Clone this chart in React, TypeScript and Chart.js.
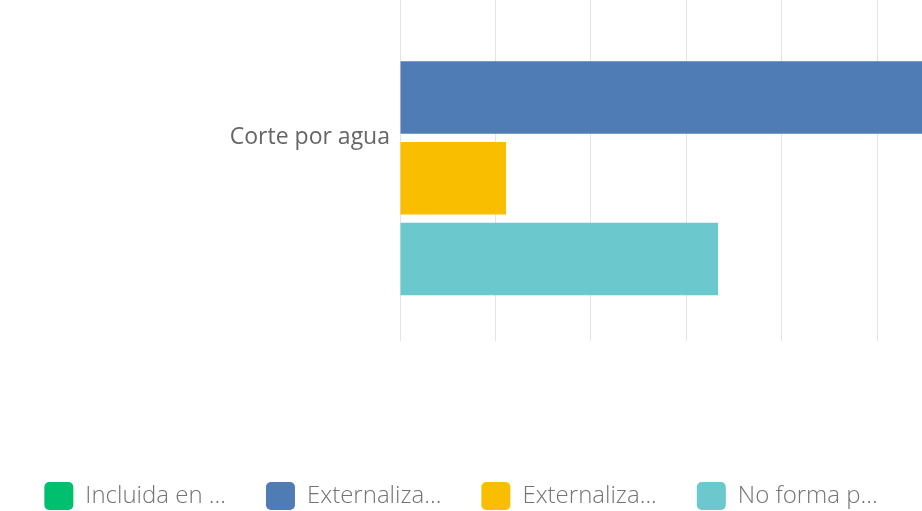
import React, { useEffect, useRef } from "react";
import { Chart, registerables } from "chart.js";

Chart.register(...registerables);

const categories = ["Corte por agua"];
const seriesLabels = ["Incluida en ...", "Externaliza...", "Externaliza...", "No forma p..."];
const seriesColors = ["#00bf6f", "#507cb6", "#f9be00", "#6bc8cd"];
const incluida = [0];
const externalizaA = [55.56];
const externalizaB = [11.11];
const noForma = [33.33];
const seriesValues = [incluida, externalizaA, externalizaB, noForma];
const gridValues = [0, 10, 20, 30, 40, 50];

export default function App() {
  const ref = useRef<HTMLCanvasElement | null>(null);
  useEffect(() => {
    if (!ref.current) return;
    const chart = new Chart(ref.current, {
      type: "bar",
      data: {
        labels: categories,
        datasets: seriesLabels.map((label, i) => ({
          label,
          data: seriesValues[i],
          backgroundColor: seriesColors[i],
          borderColor: seriesColors[i],
          borderWidth: 0,
          barPercentage: 0.9,
          categoryPercentage: 0.795,
        })),
      },
      options: {
        indexAxis: "y",
        animation: false,
        responsive: false,
        maintainAspectRatio: false,
        layout: { padding: { top: 0, left: 0, right: 0, bottom: 0 } },
        plugins: {
          tooltip: { enabled: false },
          legend: {
            position: "bottom",
            labels: {
              boxWidth: 29,
              boxHeight: 28,
              padding: 40,
              useBorderRadius: true,
              borderRadius: 5,
              color: "#747474",
              font: { family: "'Open Sans', sans-serif", size: 24, weight: 300 },
            },
          },
        },
        scales: {
          x: {
            min: 0,
            max: 54.7,
            ticks: { display: false },
            grid: { color: "#e4e4e4", lineWidth: 1, drawTicks: false },
            border: { display: false },
            afterBuildTicks: (scale: any) => {
              scale.ticks = gridValues.map((v) => ({ value: v }));
            },
            afterFit: (scale: any) => {
              scale.height = 101;
            },
          },
          y: {
            grid: { display: false, drawTicks: false },
            border: { display: false },
            ticks: {
              padding: 10,
              color: "#666666",
              font: { family: "'Open Sans', sans-serif", size: 23, weight: 500 },
            },
            afterFit: (scale: any) => {
              scale.width = 400;
            },
          },
        },
      },
    });
    return () => chart.destroy();
  }, []);
  return (
    <div
      style={{
        position: "fixed",
        left: 0,
        top: 0,
        width: 922,
        height: 511,
        overflow: "hidden",
        background: "#fff",
      }}
    >
      <canvas
        ref={ref}
        width={922}
        height={609}
        style={{ position: "absolute", left: 0, top: -89, width: 922, height: 609 }}
      />
    </div>
  );
}
